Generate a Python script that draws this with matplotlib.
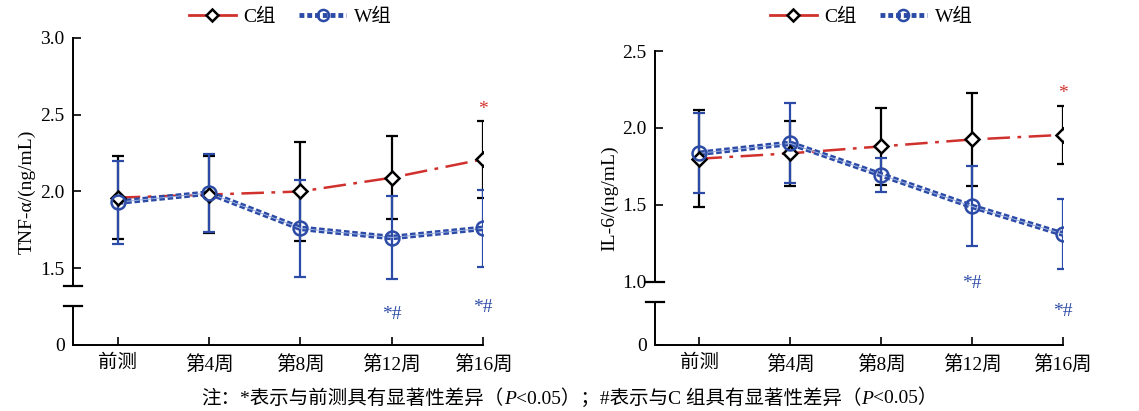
import matplotlib
matplotlib.use("Agg")
import matplotlib.pyplot as plt
from matplotlib.lines import Line2D
import numpy as np

plt.rcParams['font.family'] = ['Liberation Serif', 'Noto Sans CJK SC']

# ------------------------------------------------------------------
# data
x_labels = ["前测", "第4周", "第8周", "第12周", "第16周"]

tnf_c_mean = [1.96, 1.98, 2.00, 2.09, 2.21]
tnf_c_sd = [0.27, 0.25, 0.32, 0.27, 0.25]
tnf_w_mean = [1.93, 1.99, 1.76, 1.70, 1.76]
tnf_w_sd = [0.27, 0.255, 0.315, 0.27, 0.25]

il6_c_mean = [1.80, 1.835, 1.88, 1.925, 1.955]
il6_c_sd = [0.315, 0.21, 0.25, 0.30, 0.19]
il6_w_mean = [1.835, 1.90, 1.695, 1.49, 1.31]
il6_w_sd = [0.26, 0.26, 0.11, 0.26, 0.23]

# significance marks: (x index, y position, text, colour key)
tnf_marks = [(4, 2.535, "*", "c"), (3, 1.20, "*#", "w"), (4, 1.245, "*#", "w")]
il6_marks = [(4, 2.226, "*", "c"), (3, 0.99, "*#", "w"), (4, 0.805, "*#", "w")]

footnote = ["注：*表示与前测具有显著性差异（", "P", "<0.05）；#表示与C 组具有显著性差异（", "P", "<0.05）"]

RED = "#d0312d"
BLUE = "#2c4ba6"
BLUE_LIGHT = "#9db0e0"


def draw_panel(ax, c_mean, c_sd, w_mean, w_sd, ylim, yticks, brk, ylabel,
               marks, leg_y):
    x = np.arange(len(x_labels))

    # error bars
    ax.errorbar(x, c_mean, yerr=c_sd, fmt='none', ecolor='black',
                elinewidth=1.6, capsize=4, capthick=1.6, zorder=2)
    ax.errorbar(x, w_mean, yerr=w_sd, fmt='none', ecolor=BLUE,
                elinewidth=1.6, capsize=4, capthick=1.6, zorder=3)

    # C group line
    ax.plot(x, c_mean, color=RED, lw=1.8, ls=(0, (9, 3, 1.5, 3)), zorder=4)
    ax.plot(x, c_mean, ls='none', marker='D', ms=7, mfc='white',
            mec='black', mew=1.8, zorder=6)

    # W group line (double dotted look)
    ax.plot(x, w_mean, color=BLUE, lw=4, ls=(0, (1.0, 0.5)),
            dash_capstyle='butt', zorder=4)
    ax.plot(x, w_mean, color=BLUE_LIGHT, lw=0.7, zorder=5)
    ax.plot(x, w_mean, ls='none', marker='o', ms=10, mfc='none',
            mec=BLUE, mew=1.8, zorder=7)

    for i, yy, txt, key in marks:
        ax.text(i, yy, txt, color=RED if key == "c" else BLUE,
                ha='center', va='center', fontsize=14)

    ax.set_xlim(-0.49, 4)
    ax.set_ylim(*ylim)
    ax.set_xticks(x)
    ax.set_xticklabels(x_labels, fontsize=14)
    ax.set_yticks([ylim[0]] + yticks)
    ax.set_yticklabels(["0"] + ["%.1f" % t for t in yticks], fontsize=14)
    ax.tick_params(direction='in', length=6, width=1.2, pad=6)
    ax.tick_params(axis='x', pad=7)
    ax.set_ylabel(ylabel, fontsize=14, labelpad=3)

    for s in ['top', 'right', 'left']:
        ax.spines[s].set_visible(False)
    ax.spines['bottom'].set_linewidth(1.4)

    # broken y axis
    tr = ax.get_yaxis_transform()
    ax.plot([0, 0], [ylim[0], brk[0]], color='black', lw=1.4,
            transform=tr, clip_on=False)
    ax.plot([0, 0], [brk[1], ylim[1]], color='black', lw=1.4,
            transform=tr, clip_on=False)
    for b in brk:
        ax.plot([-0.022, 0.022], [b, b], color='black', lw=1.6,
                transform=tr, clip_on=False)

    handles = [
        Line2D([], [], color=RED, lw=2, marker='D', ms=6, mfc='white',
               mec='black', mew=1.8),
        Line2D([], [], color=BLUE, lw=3.5, ls=(0, (1.0, 0.6)), marker='o',
               ms=8, mfc='none', mec=BLUE, mew=1.8),
    ]
    ax.legend(handles, ["C组", "W组"], loc='center',
              bbox_to_anchor=(0.53, leg_y), ncol=2,
              frameon=False, fontsize=14, handlelength=2.4,
              columnspacing=1.2, handletextpad=0.4)


fig = plt.figure(figsize=(11.39, 4.11), dpi=100)
ax1 = fig.add_axes([0.0641, 0.1606, 0.360, 0.747])
ax2 = fig.add_axes([0.575, 0.1606, 0.3582, 0.7153])

draw_panel(ax1, tnf_c_mean, tnf_c_sd, tnf_w_mean, tnf_w_sd,
           (1.0, 3.0), [1.5, 2.0, 2.5, 3.0], (1.253, 1.383),
           "TNF-α/(ng/mL)", tnf_marks, 1.068)
draw_panel(ax2, il6_c_mean, il6_c_sd, il6_w_mean, il6_w_sd,
           (0.589, 2.5), [1.0, 1.5, 2.0, 2.5], (0.866, 1.0),
           "IL-6/(ng/mL)", il6_marks, 1.116)

# footnote, built piece by piece so that P can be italic
t = fig.text(0.177, 0.018, footnote[0], ha='left', va='baseline', fontsize=14)
for piece in footnote[1:]:
    t = ax1.annotate(piece, xy=(1, 0), xycoords=t, ha='left', va='bottom',
                     fontsize=14, style='italic' if piece == "P" else 'normal',
                     annotation_clip=False)

fig.savefig("out.png", dpi=100)
